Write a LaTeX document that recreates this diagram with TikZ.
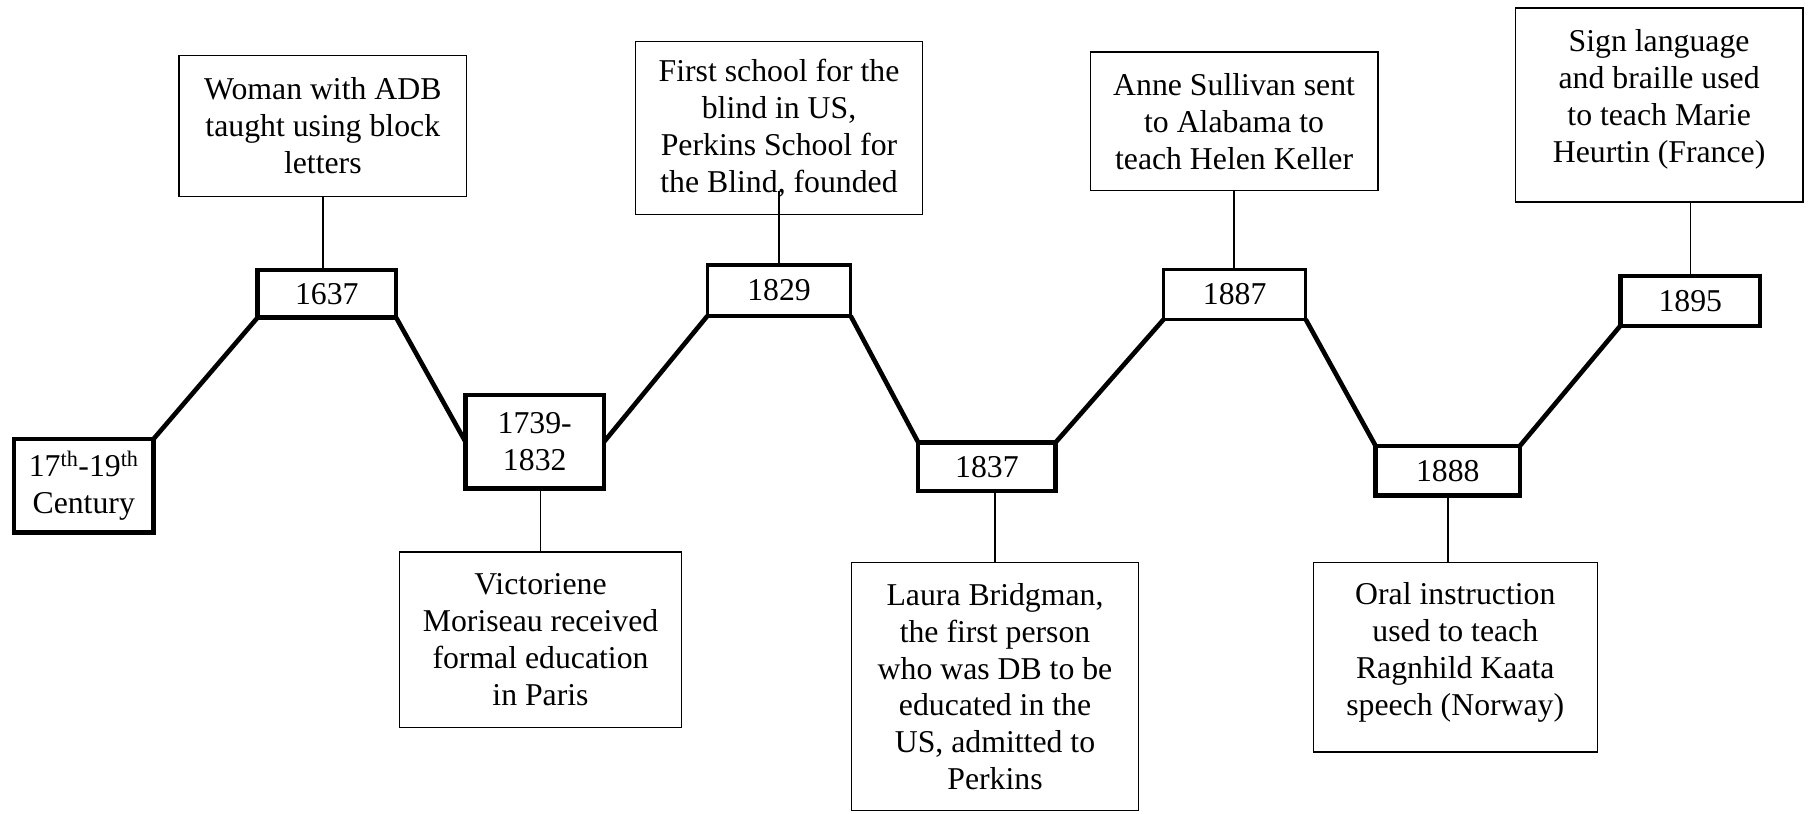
\documentclass[tikz,border=0pt]{standalone}
\usepackage{fontspec}
\setmainfont{Liberation Serif}
\begin{document}
\begin{tikzpicture}[x=1pt, y={(0pt,-1pt)},
  txt/.style={font=\fontsize{27.5}{32}\selectfont, align=center, inner sep=0pt, outer sep=0pt},
  yearbox/.style={txt, draw, rectangle, line width=3.8pt},
  lightyear/.style={yearbox, line width=2.8pt},
  infobox/.style={txt, draw, rectangle, line width=1.1pt},
  link/.style={line width=4pt},
  stem/.style={line width=1.3pt}]
\useasboundingbox (0,0) rectangle (1568,704);

% year boxes along the zigzag
\node[yearbox, minimum width=121pt, minimum height=81pt] (c17) at (72.5,420.5)
  {17\textsuperscript{th}-19\textsuperscript{th}\\Century};
\node[yearbox, minimum width=120pt, minimum height=41pt] (d1637) at (283,254.5) {1637};
\node[yearbox, minimum width=120pt, minimum height=81pt] (d1739) at (463,382.5) {1739-\\1832};
\node[lightyear, minimum width=124pt, minimum height=44pt] (d1829) at (674.5,251.5) {1829};
\node[yearbox, minimum width=119pt, minimum height=42pt] (d1837) at (854.5,404) {1837};
\node[lightyear, minimum width=123pt, minimum height=43pt] (d1887) at (1069,255) {1887};
\node[yearbox, minimum width=125pt, minimum height=43pt] (d1888) at (1253.5,407.5) {1888};
\node[yearbox, minimum width=121pt, minimum height=43pt] (d1895) at (1463.5,260.5) {1895};

% event descriptions
\node[infobox, minimum width=249pt, minimum height=122pt] (woman) at (279.5,109)
  {Woman with ADB\\taught using block\\letters};
\node[infobox, minimum width=249pt, minimum height=150pt] (first) at (674.5,111)
  {First school for the\\blind in US,\\Perkins School for\\the Blind, founded};
\node[infobox, minimum width=249pt, minimum height=120pt] (anne) at (1068.5,105)
  {Anne Sullivan sent\\to Alabama to\\teach Helen Keller};
\node[infobox, minimum width=249pt, minimum height=168pt] (sign) at (1436.5,91)
  {Sign language\\and braille used\\to teach Marie\\Heurtin (France)\\[-16pt]};
\node[infobox, minimum width=244pt, minimum height=152pt] (vict) at (468,554)
  {Victoriene\\Moriseau received\\formal education\\in Paris};
\node[infobox, minimum width=249pt, minimum height=215pt] (laura) at (861.5,594.5)
  {Laura Bridgman,\\the first person\\who was DB to be\\educated in the\\US, admitted to\\Perkins};
\node[infobox, minimum width=246pt, minimum height=164pt] (oral) at (1260,569)
  {Oral instruction\\used to teach\\Ragnhild Kaata\\speech (Norway)\\[-18pt]};

% zigzag connectors
\draw[link] (c17.north east) -- (d1637.south west);
\draw[link] (d1637.south east) -- (d1739.west);
\draw[link] (d1739.east) -- (d1829.south west);
\draw[link] (d1829.south east) -- (d1837.north west);
\draw[link] (d1837.north east) -- (d1887.south west);
\draw[link] (d1887.south east) -- (d1888.north west);
\draw[link] (d1888.north east) -- (d1895.south west);

% stems to the descriptions
\coordinate (firstend) at (674.5,165);
\draw[stem] (woman.south) -- (woman.south |- d1637.north);
\draw[stem] (d1829.north) -- (firstend);
\draw[stem] (anne.south) -- (anne.south |- d1887.north);
\draw[stem] (d1895.north) -- (d1895.north |- sign.south);
\draw[stem] (vict.north) -- (vict.north |- d1739.south);
\draw[stem] (laura.north) -- (laura.north |- d1837.south);
\draw[stem] (d1888.south) -- (d1888.south |- oral.north);
\end{tikzpicture}
\end{document}
